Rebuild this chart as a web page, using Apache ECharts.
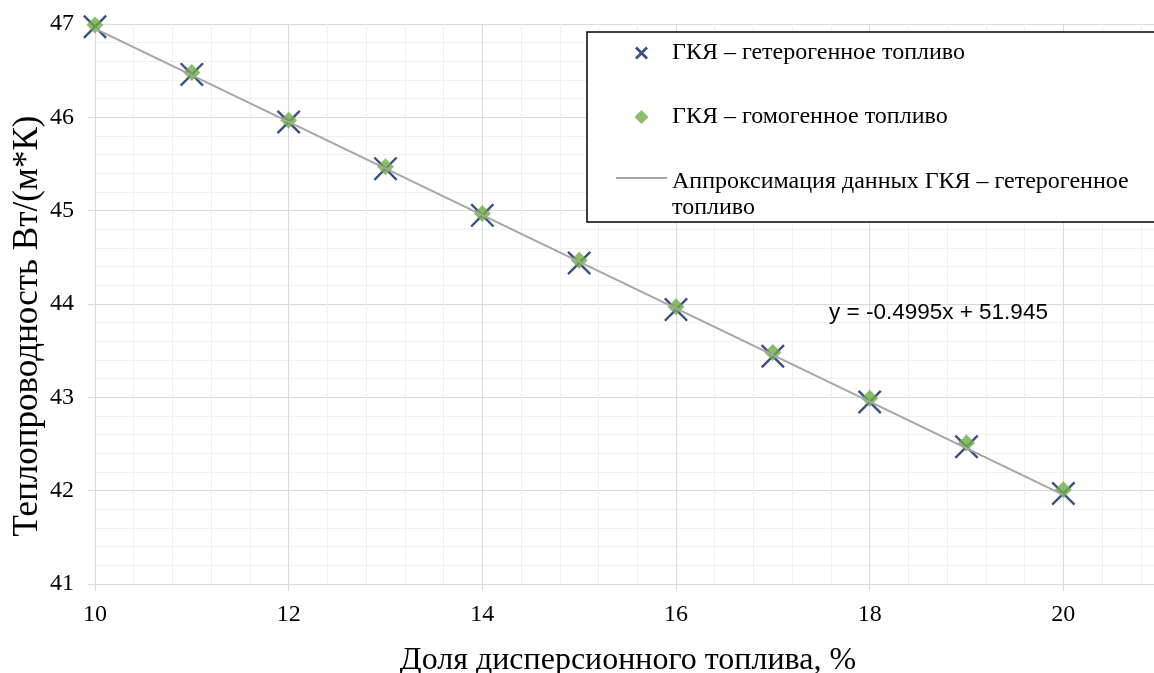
<!DOCTYPE html>
<html><head><meta charset="utf-8">
<script src="https://cdn.jsdelivr.net/npm/echarts@6/dist/echarts.min.js"></script>
<style>html,body{margin:0;padding:0;background:#fff}#c{width:1154px;height:673px}</style>
</head><body><div id="c"></div>
<script>
const xValues = [10, 11, 12, 13, 14, 15, 16, 17, 18, 19, 20];
const heteroValues = [46.97, 46.46, 45.95, 45.45, 44.95, 44.44, 43.94, 43.44, 42.95, 42.47, 41.97];
const homoValues = [46.99, 46.48, 45.97, 45.47, 44.97, 44.47, 43.97, 43.48, 42.99, 42.51, 42.01];
const trendX = [10, 20];
const trendY = [46.95, 41.955];
const seriesNames = ['ГКЯ – гетерогенное топливо', 'ГКЯ – гомогенное топливо', 'Аппроксимация данных ГКЯ – гетерогенное топливо'];
const trendLegendLines = ['Аппроксимация данных ГКЯ – гетерогенное', 'топливо'];
const xAxisTitle = 'Доля дисперсионного топлива, %';
const yAxisTitle = 'Теплопроводность Вт/(м*К)';
const equationText = 'y = -0.4995x + 51.945';
const equationAt = [17.58, 43.91];

const serif = 'Liberation Serif';
const xPath = 'path://M0,1.7 L1.7,0 L12,10.3 L22.3,0 L24,1.7 L13.7,12 L24,22.3 L22.3,24 L12,13.7 L1.7,24 L0,22.3 L10.3,12 Z';
const anchors = 'M0,0 L0.001,0 L0,0.001 Z M51,14 L50.999,14 L51,13.999 Z ';
const xLegendPath = 'path://' + anchors + 'M19,2.4 L20.9,0.5 L25.5,5.1 L30.1,0.5 L32,2.4 L27.4,7 L32,11.6 L30.1,13.5 L25.5,8.9 L20.9,13.5 L19,11.6 L23.6,7 Z';
const diamondPath = 'path://' + anchors + 'M25.5,0 L32.5,7 L25.5,14 L18.5,7 Z';
const linePath = 'path://' + anchors + 'M0,6 L51,6 L51,8 L0,8 Z';
const major = '#D9D9D9', minor = '#F0F0F0';
const navy = '#0A2461', green = '#70AD47', gray = '#A5A5A5';

const chart = echarts.init(document.getElementById('c'), null, {renderer: 'canvas'});
chart.setOption({
  animation: false,
  backgroundColor: '#fff',
  grid: {left: 95, top: 24, width: 1162, bottom: 89, outerBoundsMode: 'none', containLabel: false},
  xAxis: {
    type: 'value', min: 10, max: 22, interval: 2,
    name: xAxisTitle, nameLocation: 'middle', nameGap: 61, nameMoveOverlap: false,
    nameTextStyle: {fontFamily: serif, fontSize: 32, color: '#000', padding: [0, 96, 0, 0]},
    axisLine: {show: true, onZero: false, lineStyle: {color: major, width: 1}},
    axisTick: {show: true, length: 7, lineStyle: {color: major}},
    axisLabel: {fontFamily: serif, fontSize: 24, color: '#000', margin: 19, showMaxLabel: false},
    splitLine: {show: true, lineStyle: {color: major, width: 1}},
    minorTick: {show: false, splitNumber: 5},
    minorSplitLine: {show: true, lineStyle: {color: minor, width: 1}}
  },
  yAxis: {
    type: 'value', min: 41, max: 47, interval: 1,
    name: yAxisTitle, nameLocation: 'middle', nameGap: 50, nameMoveOverlap: false,
    nameTextStyle: {fontFamily: serif, fontSize: 35, color: '#000', padding: [0, 44, 0, 0]},
    axisLine: {show: true, onZero: false, lineStyle: {color: major, width: 1}},
    axisTick: {show: true, length: 7, lineStyle: {color: major}},
    axisLabel: {fontFamily: serif, fontSize: 24, color: '#000', margin: 21},
    splitLine: {show: true, lineStyle: {color: major, width: 1}},
    minorTick: {show: false, splitNumber: 5},
    minorSplitLine: {show: true, lineStyle: {color: minor, width: 1}}
  },
  legend: [
    {
      data: [{name: seriesNames[0], icon: xLegendPath}, {name: seriesNames[1], icon: diamondPath}],
      orient: 'vertical', left: 587, top: 32,
      padding: [8, 300, 92, 29], itemWidth: 51, itemHeight: 14, itemGap: 38,
      borderColor: '#000', borderWidth: 1.5, backgroundColor: '#fff', selectedMode: false,
      textStyle: {fontFamily: serif, fontSize: 24, color: '#000', lineHeight: 26}
    },
    {
      data: [{name: seriesNames[2], icon: linePath}],
      orient: 'vertical', left: 616, top: 151, padding: 0,
      itemWidth: 51, itemHeight: 14, selectedMode: false,
      formatter: () => '{s| }\n{a|' + trendLegendLines[0] + '}\n{a|' + trendLegendLines[1] + '}',
      textStyle: {
        fontFamily: serif, fontSize: 24, color: '#000',
        rich: {
          s: {fontSize: 2, lineHeight: 34},
          a: {fontFamily: serif, fontSize: 24, color: '#000', lineHeight: 26}
        }
      }
    }
  ],
  series: [
    {
      type: 'scatter', name: seriesNames[0],
      data: xValues.map((x, i) => [x, heteroValues[i]]),
      symbol: xPath, symbolSize: 24,
      itemStyle: {color: navy}
    },
    {
      type: 'scatter', name: seriesNames[1],
      data: xValues.map((x, i) => [x, homoValues[i]]),
      symbol: 'diamond', symbolSize: 17,
      itemStyle: {color: green}
    },
    {
      type: 'line', name: seriesNames[2],
      data: trendX.map((x, i) => [x, trendY[i]]),
      symbol: 'none', lineStyle: {color: gray, width: 2},
      itemStyle: {color: gray},
      markPoint: {
        symbol: 'circle', symbolSize: 0, silent: true,
        data: [{coord: equationAt}],
        label: {show: true, position: [0, 0], align: 'left', verticalAlign: 'middle',
          formatter: () => equationText, fontFamily: 'Liberation Sans', fontSize: 22.5, color: '#000'}
      }
    }
  ]
});
</script></body></html>
